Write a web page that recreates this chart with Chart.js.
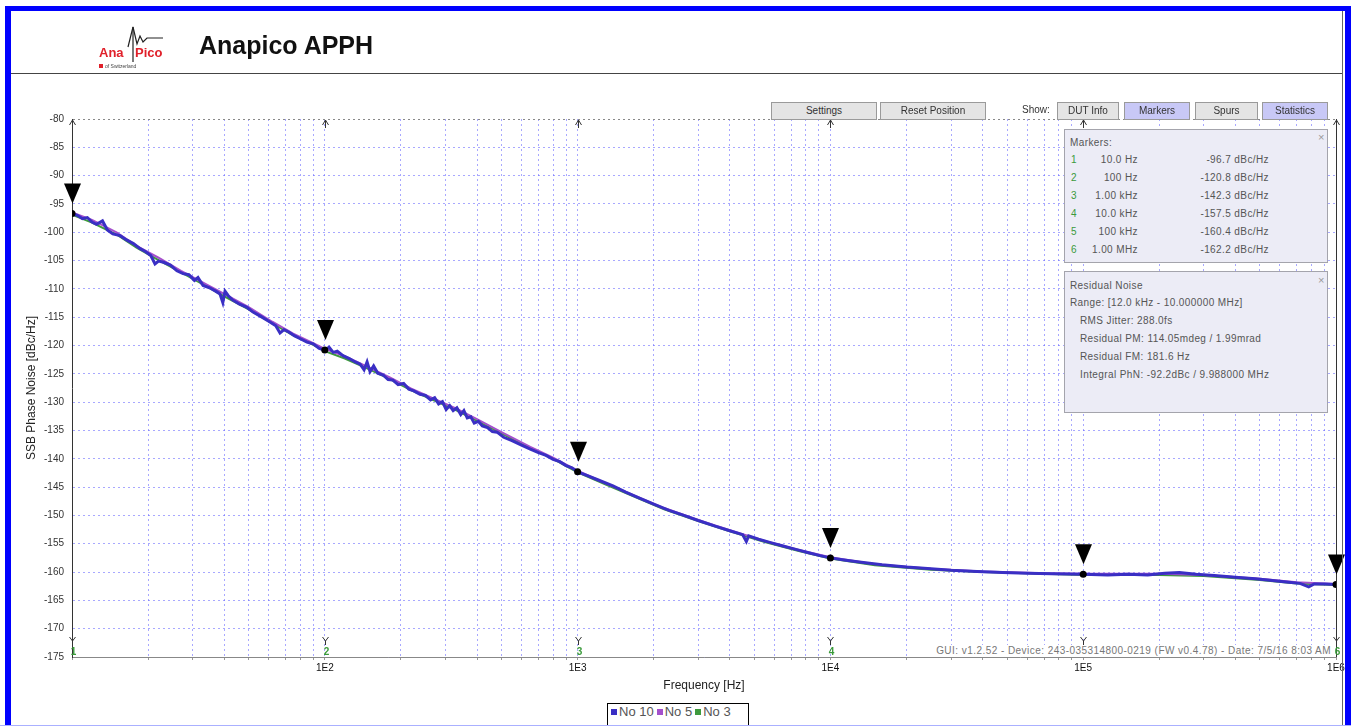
<!DOCTYPE html>
<html>
<head>
<meta charset="utf-8">
<script src="https://cdn.jsdelivr.net/npm/chart.js@4.4.1/dist/chart.umd.min.js"></script>
<style>
body { margin:0; width:1351px; height:726px; overflow:hidden; position:relative; background:#fff; font-family:"Liberation Sans", Arial, sans-serif; }
#plot { position:absolute; left:0; top:0; }
.frame { position:absolute; background:#0000ff; z-index:20; }
.btn { position:absolute; top:102px; height:16px; border:1px solid #9a9a9a; background:#e4e4e4; font-size:10px; color:#333; text-align:center; line-height:16px; z-index:5; }
.btn.on { background:#c8c8f6; }
.box { position:absolute; left:1064px; width:262px; background:#ececf6; border:1px solid #a4a4ac; font-size:10px; color:#555; z-index:5; letter-spacing:0.4px; }
.box div { position:absolute; white-space:nowrap; }
.close { color:#999; font-size:11px; }
#legend { position:absolute; left:607px; top:703px; width:140px; height:26px; border:1px solid #000; background:#fff; z-index:5; font-size:13px; color:#555; }
#legend span.sq { display:inline-block; width:6px; height:6px; margin:0 2px 2px 3px; vertical-align:middle; }
</style>
</head>
<body>
<canvas id="plot" width="1351" height="726"></canvas>

<!-- header -->
<svg style="position:absolute;left:90px;top:20px;z-index:5" width="90" height="55">
  <path d="M38 27 L43 7 L47 24 L50 16 L53 22 L57 18 L73 18" fill="none" stroke="#222" stroke-width="1.2"/>
  <line x1="43" y1="7" x2="43" y2="42" stroke="#222" stroke-width="1.2"/>
  <text x="9" y="37" font-family="Liberation Sans" font-weight="bold" font-size="13" fill="#e0202a">Ana</text>
  <text x="45" y="37" font-family="Liberation Sans" font-weight="bold" font-size="13" fill="#e0202a">Pico</text>
  <rect x="9" y="44" width="4" height="4" fill="#e0202a"/>
  <text x="15" y="48" font-family="Liberation Sans" font-size="5" fill="#444">of Switzerland</text>
</svg>
<div style="position:absolute;left:199px;top:31px;font-size:25px;font-weight:bold;color:#111;z-index:5">Anapico APPH</div>
<div style="position:absolute;left:11px;top:73px;width:1332px;height:1px;background:#444;z-index:5"></div>

<!-- buttons -->
<div class="btn" style="left:771px;width:104px">Settings</div>
<div class="btn" style="left:880px;width:104px">Reset Position</div>
<div style="position:absolute;left:1022px;top:104px;font-size:10px;color:#333;z-index:5">Show:</div>
<div class="btn" style="left:1057px;width:60px">DUT Info</div>
<div class="btn on" style="left:1124px;width:64px">Markers</div>
<div class="btn" style="left:1195px;width:61px">Spurs</div>
<div class="btn on" style="left:1262px;width:64px">Statistics</div>

<div class="box" id="markerBox" style="top:129px;height:132px">
  <div style="left:5px;top:7px">Markers:</div>
  <div class="close" style="left:253px;top:1px">×</div>
</div>

<div class="box" id="residualBox" style="top:271px;height:140px">
  <div style="left:5px;top:8px">Residual Noise</div>
  <div class="close" style="left:253px;top:2px">×</div>
  <div style="left:5px;top:25px">Range: [12.0 kHz - 10.000000 MHz]</div>
  <div style="left:15px;top:43px">RMS Jitter: 288.0fs</div>
  <div style="left:15px;top:61px">Residual PM: 114.05mdeg / 1.99mrad</div>
  <div style="left:15px;top:79px">Residual FM: 181.6 Hz</div>
  <div style="left:15px;top:97px">Integral PhN: -92.2dBc / 9.988000 MHz</div>
</div>

<div style="position:absolute;right:20px;top:645px;font-size:10px;line-height:12px;letter-spacing:0.45px;color:#777;background:#fff;z-index:5">GUI: v1.2.52 - Device: 243-035314800-0219 (FW v0.4.78) - Date: 7/5/16 8:03 AM</div>

<div id="legend"></div>

<!-- blue frame -->
<div class="frame" style="left:5px;top:6px;width:6px;height:720px"></div>
<div class="frame" style="left:5px;top:6px;width:1346px;height:5px"></div>
<div class="frame" style="left:1345px;top:6px;width:6px;height:720px"></div>
<div style="position:absolute;left:1342px;top:11px;width:1px;height:715px;background:#666;z-index:20"></div>
<div style="position:absolute;left:0;top:725px;width:1351px;height:1px;background:#aab0ff;z-index:20"></div>

<script>
// No 10 trace (Hz, dBc/Hz)
const freqA = [10, 10.5, 11, 11.5, 12, 12.5, 13.2, 13.8, 14.5, 15.5, 16.5, 17.5, 18.6, 19.5, 20.5, 21.3, 22, 23, 24.5, 26,
  27.5, 29, 30.5, 31.5, 33, 35, 37, 38.5, 39.5, 40.3, 41.5, 43, 46, 49, 52, 56, 60, 64, 66.5, 69,
  72, 76, 80, 85, 90, 95, 100, 104, 108, 112, 118, 125, 132, 138, 143, 147, 151, 156, 162, 170,
  178, 186, 195, 205, 215, 225, 238, 250, 262, 272, 282, 292, 302, 312, 322, 333, 345, 355, 366, 378,
  390, 405, 420, 440, 460, 480, 510, 550, 600, 650, 700, 750, 800, 850, 900, 950, 1000, 1100, 1200, 1380,
  1550, 1766, 2000, 2300, 2600, 3000, 3500, 4000, 4500, 4650, 4750, 5200, 5800, 6500, 7300, 8200, 9100, 10000, 11500, 13500,
  16000, 20000, 25000, 30000, 38000, 48000, 60000, 75000, 100000, 125000, 150000, 180000, 210000, 240000, 280000, 330000, 400000, 480000, 560000, 650000,
  720000, 780000, 820000, 900000, 1000000];
const no10 = [-96.7, -97.0, -97.6, -97.4, -98.2, -98.6, -98.0, -99.6, -100.3, -100.6, -101.4, -102.0, -102.9, -103.4, -104.1, -105.6, -105.1, -105.3, -105.8, -106.8,
  -107.3, -107.5, -108.5, -108.0, -109.4, -109.8, -110.4, -110.9, -112.4, -110.4, -111.2, -111.9, -112.7, -113.2, -114.1, -114.9, -115.7, -116.5, -117.8, -117.2,
  -117.6, -118.3, -118.8, -119.4, -119.7, -120.5, -120.8, -120.3, -121.2, -121.0, -121.8, -122.3, -122.9, -123.3, -124.3, -122.9, -124.6, -123.6, -124.9, -125.2,
  -126.0, -126.1, -126.9, -126.7, -127.7, -128.0, -128.6, -128.8, -129.6, -129.2, -130.3, -129.9, -131.3, -130.6, -131.5, -131.0, -132.2, -131.5, -132.8, -132.6,
  -133.7, -133.4, -134.2, -134.5, -135.2, -135.3, -136.2, -136.8, -137.6, -138.3, -138.9, -139.4, -140.1, -140.5, -141.2, -141.6, -142.3, -143.0, -143.7, -144.8,
  -145.9, -147.0, -148.0, -149.1, -149.9, -150.9, -151.9, -152.7, -153.4, -154.6, -153.6, -154.2, -154.8, -155.4, -156.0, -156.6, -157.1, -157.5, -157.9, -158.3,
  -158.7, -159.1, -159.4, -159.7, -159.9, -160.1, -160.2, -160.3, -160.4, -160.5, -160.4, -160.5, -160.2, -160.1, -160.4, -160.6, -160.9, -161.2, -161.5, -161.8,
  -162.0, -162.6, -162.1, -162.1, -162.2];

// No 5 and No 3 traces
const freqB = [10, 12, 15, 18, 22, 27, 33, 40, 50, 62, 75, 90, 100, 120, 150, 180, 220, 270, 330, 400,
  500, 650, 800, 1000, 1300, 1700, 2200, 3000, 4000, 5500, 7500, 10000, 15000, 25000, 40000, 70000, 100000, 200000, 300000, 500000,
  700000, 1000000];
const no5 = [-96.5, -97.8, -100.0, -102.4, -104.5, -106.8, -108.9, -110.9, -113.2, -115.8, -117.9, -119.6, -120.6, -121.9, -123.9, -125.6, -127.6, -129.4, -131.1, -133.0,
  -135.3, -137.9, -139.8, -142.1, -144.4, -146.6, -148.7, -150.8, -152.6, -154.5, -156.1, -157.4, -158.6, -159.4, -159.9, -160.2, -160.3, -160.3, -160.5, -161.2,
  -161.8, -162.1];
const no3 = [-96.9, -98.3, -100.4, -102.7, -104.9, -107.1, -109.2, -111.3, -113.6, -116.1, -118.2, -119.9, -121.0, -122.3, -124.2, -125.9, -127.9, -129.7, -131.4, -133.3,
  -135.5, -138.1, -140.0, -142.4, -144.6, -146.8, -148.9, -151.0, -152.8, -154.7, -156.3, -157.6, -158.8, -159.6, -160.0, -160.3, -160.5, -160.5, -160.7, -161.4,
  -162.0, -162.3];

// markers
const markerFreq = [10, 100, 1000, 10000, 100000, 1000000];
const markerVal = [-96.7, -120.8, -142.3, -157.5, -160.4, -162.2];
const markerFreqLabels = ['10.0 Hz', '100 Hz', '1.00 kHz', '10.0 kHz', '100 kHz', '1.00 MHz'];

// axis labels
const xLabelValues = [100, 1000, 10000, 100000, 1000000];
const xLabelText = ['1E2', '1E3', '1E4', '1E5', '1E6'];

function pairs(xs, ys) {
    return xs.map(function (f, i) { return {x: f, y: ys[i]}; });
}

const markerDeco = {
    id: 'markerDeco',
    afterDatasetsDraw(chart) {
        const ctx = chart.ctx, a = chart.chartArea;
        const xs = chart.scales.x, ys = chart.scales.y;
        ctx.save();
        ctx.strokeStyle = '#333';
        ctx.lineWidth = 1;
        ctx.beginPath();
        ctx.moveTo(a.right + 0.5, a.top);
        ctx.lineTo(a.right + 0.5, a.bottom);
        ctx.stroke();
        for (let i = 0; i < markerFreq.length; i++) {
            const px = Math.round(xs.getPixelForValue(markerFreq[i])) + 0.5;
            const py = ys.getPixelForValue(markerVal[i]);
            ctx.strokeStyle = '#333';
            ctx.beginPath();
            ctx.moveTo(px - 3, a.top + 6); ctx.lineTo(px, a.top + 1); ctx.lineTo(px + 3, a.top + 6);
            ctx.moveTo(px, a.top + 1); ctx.lineTo(px, a.top + 9);
            ctx.moveTo(px - 3, a.bottom - 20); ctx.lineTo(px, a.bottom - 16); ctx.lineTo(px + 3, a.bottom - 20);
            ctx.moveTo(px, a.bottom - 16); ctx.lineTo(px, a.bottom - 12);
            ctx.stroke();
            ctx.fillStyle = '#3a9a3a';
            ctx.font = 'bold 10px "Liberation Sans"';
            ctx.textAlign = 'center';
            ctx.fillText(String(i + 1), px + 1, a.bottom - 2);
            ctx.fillStyle = '#000';
            ctx.beginPath();
            ctx.moveTo(px - 8.5, py - 30);
            ctx.lineTo(px + 8.5, py - 30);
            ctx.lineTo(px, py - 10);
            ctx.closePath();
            ctx.fill();
        }
        ctx.restore();
    }
};

Chart.defaults.font.family = '"Liberation Sans", Arial, sans-serif';
const gridBlue = 'rgba(110, 110, 255, 0.6)';

const chart = new Chart(document.getElementById('plot'), {
    type: 'line',
    data: {
        datasets: [
            {label: 'No 10', data: pairs(freqA, no10), borderColor: '#3a2fc4', backgroundColor: '#3a2fc4', borderWidth: 3, pointRadius: 0, order: 1},
            {label: 'No 5', data: pairs(freqB, no5), borderColor: '#a450cc', backgroundColor: '#a450cc', borderWidth: 2, pointRadius: 0, order: 2},
            {label: 'No 3', data: pairs(freqB, no3), borderColor: '#3e9a3e', backgroundColor: '#3e9a3e', borderWidth: 2, pointRadius: 0, order: 3},
            {label: 'markers', data: pairs(markerFreq, markerVal), showLine: false, pointRadius: 3.5, pointBackgroundColor: '#000', pointBorderWidth: 0, order: 0}
        ]
    },
    options: {
        responsive: false,
        animation: false,
        devicePixelRatio: 1,
        layout: {padding: {left: 20, top: 119, right: 15, bottom: 29}},
        plugins: {legend: {display: false}, tooltip: {enabled: false}},
        scales: {
            x: {
                type: 'logarithmic',
                min: 10,
                max: 1000000,
                afterBuildTicks: function (scale) {
                    const t = [];
                    for (let d = 10; d < 1000000; d *= 10) {
                        for (let m = 1; m < 10; m++) t.push({value: m * d});
                    }
                    t.push({value: 1000000});
                    scale.ticks = t;
                },
                afterFit: function (scale) { scale.height = 40; },
                ticks: {
                    autoSkip: false,
                    maxRotation: 0,
                    padding: 2,
                    color: '#111',
                    font: {size: 10},
                    callback: function (v) {
                        const k = xLabelValues.indexOf(v);
                        return k >= 0 ? xLabelText[k] : '';
                    }
                },
                grid: {color: gridBlue, lineWidth: 1, tickLength: 3, tickColor: '#999'},
                border: {color: '#888', width: 1, dash: [2, 3]},
                title: {display: true, text: 'Frequency [Hz]', color: '#222', font: {size: 12}, padding: {top: 4, bottom: 4}}
            },
            y: {
                min: -175,
                max: -80,
                afterFit: function (scale) { scale.width = 52; },
                ticks: {stepSize: 5, color: '#333', font: {size: 10}, padding: 8},
                grid: {
                    color: function (c) { return c.tick && c.tick.value === -80 ? '#888' : gridBlue; },
                    lineWidth: 1,
                    drawTicks: false
                },
                border: {color: '#333', width: 1, dash: [2, 3]},
                title: {display: true, text: 'SSB Phase Noise [dBc/Hz]', color: '#222', font: {size: 12}, padding: {top: 4, bottom: 4}}
            }
        }
    },
    plugins: [markerDeco]
});

// marker table from the marker arrays
const mb = document.getElementById('markerBox');
markerFreq.forEach(function (f, i) {
    const top = 24 + i * 18;
    mb.insertAdjacentHTML('beforeend',
        '<div style="left:6px;top:' + top + 'px;color:#3a9a3a">' + (i + 1) + '</div>' +
        '<div style="right:189px;top:' + top + 'px">' + markerFreqLabels[i] + '</div>' +
        '<div style="right:58px;top:' + top + 'px">' + markerVal[i].toFixed(1) + ' dBc/Hz</div>');
});

// legend from the chart datasets
const lg = document.getElementById('legend');
chart.data.datasets.filter(function (d) { return d.label !== 'markers'; }).forEach(function (d) {
    lg.insertAdjacentHTML('beforeend', '<span class="sq" style="background:' + d.borderColor + '"></span>' + d.label);
});
</script>
</body>
</html>
